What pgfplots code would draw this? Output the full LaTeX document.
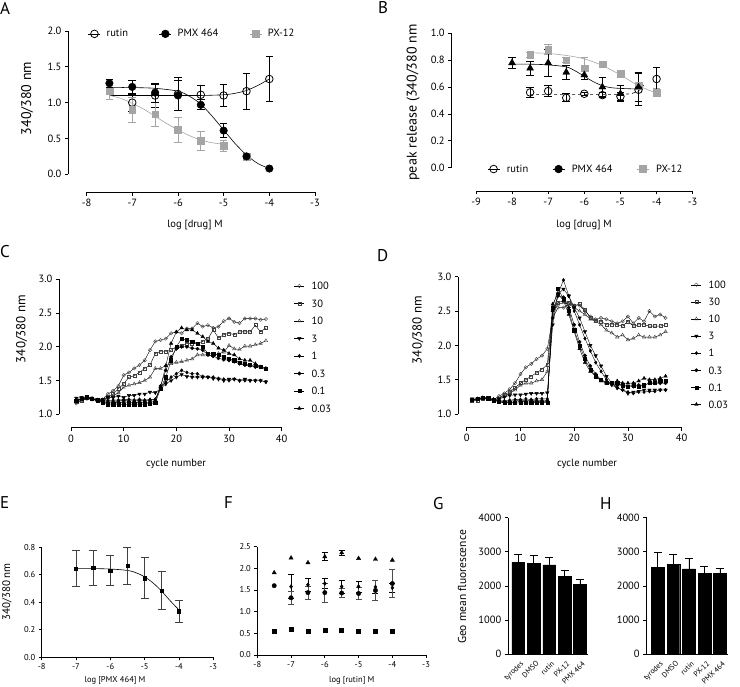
\documentclass[border=0pt]{standalone}
\usepackage{fontspec}
\setmainfont{PT Sans}
\usepackage{pgfplots}
\usepackage{pgfplotstable}
\pgfplotsset{compat=1.18}
\definecolor{pxgray}{RGB}{165,165,165}
\newcommand\fs[1]{\fontsize{#1}{#1}\selectfont}

% calcium traces, panel C (columns = concentration)
\pgfplotstableread{
c s100 s30 s10 s3 s1 s03 s01 s003
1 1.16 1.19 1.20 1.24 1.22 1.20 1.20 1.22
2 1.20 1.20 1.22 1.25 1.23 1.22 1.23 1.23
3 1.23 1.24 1.24 1.26 1.25 1.24 1.26 1.24
4 1.22 1.23 1.23 1.24 1.23 1.22 1.23 1.23
5 1.21 1.21 1.21 1.22 1.21 1.20 1.21 1.21
6 1.22 1.21 1.20 1.22 1.20 1.18 1.18 1.20
7 1.30 1.26 1.24 1.25 1.20 1.17 1.15 1.19
8 1.35 1.30 1.27 1.25 1.21 1.17 1.15 1.19
9 1.42 1.38 1.32 1.27 1.21 1.17 1.15 1.20
10 1.58 1.45 1.40 1.25 1.22 1.18 1.14 1.21
11 1.62 1.55 1.43 1.28 1.22 1.18 1.15 1.20
12 1.68 1.57 1.45 1.28 1.21 1.17 1.15 1.20
13 1.73 1.62 1.47 1.30 1.22 1.18 1.15 1.21
14 1.80 1.68 1.50 1.30 1.21 1.17 1.15 1.20
15 1.95 1.73 1.55 1.33 1.22 1.18 1.16 1.21
16 2.08 1.90 1.68 1.32 1.22 1.19 1.17 1.22
17 2.10 1.93 1.68 1.38 1.40 1.42 1.38 1.40
18 2.12 1.93 1.72 1.45 1.48 1.65 1.55 1.72
19 2.20 1.95 1.75 1.50 1.55 1.85 1.80 2.05
20 2.22 2.00 1.77 1.55 1.60 1.97 2.00 2.22
21 2.20 2.02 1.78 1.59 1.65 2.00 2.12 2.28
22 2.27 2.05 1.80 1.56 1.62 2.00 2.10 2.25
23 2.27 2.05 1.82 1.55 1.60 1.98 2.08 2.25
24 2.35 2.05 1.88 1.55 1.60 1.97 2.05 2.20
25 2.30 2.08 1.88 1.55 1.56 1.95 2.00 2.15
26 2.32 2.12 1.88 1.55 1.55 1.88 1.90 2.08
27 2.28 2.25 1.87 1.53 1.55 1.86 1.90 2.05
28 2.30 2.13 1.90 1.52 1.53 1.83 1.88 1.98
29 2.38 2.18 1.92 1.50 1.52 1.81 1.85 1.95
30 2.42 2.20 2.02 1.52 1.50 1.80 1.82 1.90
31 2.37 2.18 1.97 1.52 1.52 1.78 1.80 1.88
32 2.35 2.22 1.96 1.50 1.50 1.75 1.77 1.82
33 2.42 2.22 2.01 1.52 1.50 1.73 1.75 1.80
34 2.42 2.22 2.01 1.50 1.50 1.72 1.73 1.80
35 2.42 2.32 2.03 1.50 1.50 1.70 1.72 1.75
36 2.40 2.22 2.05 1.50 1.50 1.70 1.70 1.70
37 2.41 2.28 2.09 1.48 1.48 1.67 1.68 1.68
}\tabC

% panel D
\pgfplotstableread{
c s100 s30 s10 s3 s1 s03 s01 s003
1 1.20 1.19 1.20 1.22 1.21 1.20 1.21 1.20
2 1.21 1.20 1.21 1.22 1.22 1.21 1.22 1.22
3 1.23 1.22 1.23 1.24 1.24 1.23 1.24 1.23
4 1.22 1.22 1.22 1.23 1.23 1.22 1.23 1.22
5 1.21 1.20 1.21 1.21 1.21 1.20 1.20 1.21
6 1.26 1.23 1.22 1.22 1.19 1.18 1.18 1.19
7 1.30 1.28 1.25 1.25 1.19 1.17 1.16 1.18
8 1.36 1.32 1.30 1.27 1.20 1.17 1.16 1.19
9 1.45 1.38 1.35 1.28 1.21 1.17 1.16 1.19
10 1.58 1.45 1.42 1.28 1.21 1.18 1.16 1.20
11 1.68 1.50 1.45 1.29 1.22 1.18 1.16 1.19
12 1.73 1.55 1.45 1.30 1.21 1.17 1.16 1.20
13 1.80 1.60 1.48 1.30 1.22 1.18 1.17 1.19
14 1.85 1.65 1.50 1.30 1.22 1.18 1.17 1.20
15 1.95 1.72 1.62 1.31 1.22 1.19 1.17 1.20
16 2.40 2.55 2.50 2.30 2.40 2.50 2.55 2.60
17 2.55 2.62 2.60 2.75 2.75 2.72 2.82 2.75
18 2.55 2.65 2.62 2.82 2.95 2.70 2.68 2.65
19 2.60 2.62 2.60 2.72 2.72 2.55 2.50 2.45
20 2.58 2.58 2.55 2.55 2.50 2.30 2.22 2.20
21 2.58 2.60 2.50 2.40 2.30 2.05 2.00 1.95
22 2.50 2.52 2.45 2.20 2.10 1.85 1.80 1.75
23 2.42 2.40 2.38 2.00 1.92 1.70 1.65 1.62
24 2.38 2.36 2.35 1.85 1.75 1.58 1.55 1.55
25 2.40 2.35 2.30 1.70 1.62 1.50 1.50 1.48
26 2.38 2.30 2.22 1.55 1.50 1.45 1.46 1.45
27 2.35 2.30 2.18 1.45 1.42 1.44 1.45 1.45
28 2.32 2.30 2.12 1.38 1.38 1.42 1.45 1.48
29 2.35 2.28 2.15 1.35 1.35 1.42 1.42 1.45
30 2.42 2.35 2.08 1.30 1.32 1.40 1.40 1.45
31 2.32 2.28 2.10 1.32 1.30 1.40 1.42 1.45
32 2.40 2.30 2.15 1.33 1.32 1.42 1.40 1.48
33 2.35 2.30 2.12 1.35 1.32 1.42 1.42 1.52
34 2.50 2.28 2.12 1.35 1.33 1.45 1.45 1.50
35 2.42 2.28 2.12 1.35 1.33 1.45 1.45 1.50
36 2.45 2.28 2.15 1.35 1.35 1.45 1.48 1.52
37 2.40 2.30 2.20 1.35 1.35 1.45 1.48 1.55
}\tabD

\pgfplotsset{
  base/.style={scale only axis, clip=false, tick align=outside, major tick length=3.5pt,
    axis line style={line width=0.75pt}, tick style={line width=0.75pt, black},
    /pgf/number format/assume math mode=true, tick label style={font=\fs{10.5}}},
  yonly/.style={base, axis y line*=left, axis x line=none, xtick=\empty},
  xonly/.style={base, axis x line*=bottom, axis y line=none, ytick=\empty, ymin=0, ymax=1, height=1pt},
  onedec/.style={y tick label style={/pgf/number format/.cd, fixed, fixed zerofill, precision=1, /tikz/.cd}},
  errb/.style={error bars/.cd, y dir=both, y explicit, error bar style={line width=0.75pt},
    error mark options={rotate=90, line width=0.75pt, mark size=#1}},
  errb/.default=3.8pt,
  legA/.style={legend image code/.code={\draw[mark repeat=2, mark phase=2, ##1] plot coordinates {(0pt,0pt) (6pt,0pt) (12pt,0pt)};}},
  legC/.style={legend image code/.code={\draw[mark repeat=2, mark phase=2, ##1] plot coordinates {(0pt,0pt) (5pt,0pt) (10pt,0pt)};}},
  trace/.style={black, line width=0.4pt, mark size=1.7pt},
  opn/.style={mark options={fill=white, draw=black!75}},
  cats/.style={base, axis lines*=left, width=#1, height=136.6pt, ymin=0, ymax=4000,
    ytick={0,1000,2000,3000,4000}, xtick={0,1,2,3,4}, xticklabels={tyrodes,DMSO,rutin,PX-12,PMX 464},
    x tick label style={rotate=45, anchor=north east, font=\fs{7.5}, inner sep=0.5pt, yshift=-2.5pt},
    y tick label style={/pgf/number format/1000 sep={}}, x tick style={draw=none},
    ybar, bar width=12.7pt},
}

\begin{document}
\begin{tikzpicture}
\useasboundingbox (0pt,0pt) rectangle (740pt,687pt);

% ---------------- A
\begin{axis}[yonly, onedec, at={(68.3pt,512.7pt)}, width=246.7pt, height=143.3pt,
  xmin=-8.40, xmax=-3, ymin=0, ymax=2, ytick={0,0.5,1,1.5,2}, legA,
  legend columns=3, legend cell align=left,
  legend style={at={(axis cs:-7.97,1.96)}, anchor=west, draw=none, fill=none, inner sep=0pt,
    font=\fs{10.5}, column sep=6pt, nodes={inner sep=0pt},
    /tikz/every even column/.append style={column sep=31pt}}]
\addlegendimage{black, line width=0.6pt, mark=o, mark size=3.8pt, mark options={fill=white, line width=0.8pt}}
\addlegendentry{rutin}
\addlegendimage{black, line width=0.6pt, mark=*, mark size=3.8pt}
\addlegendentry{PMX 464}
\addlegendimage{pxgray, line width=0.6pt, mark=square*, mark size=3.4pt}
\addlegendentry{PX-12}
\addplot[forget plot, black, line width=0.6pt, smooth] coordinates {
(-7.5,1.10) (-7,1.10) (-6.5,1.10) (-6,1.10) (-5.5,1.10) (-5,1.11) (-4.75,1.13) (-4.5,1.17) (-4.25,1.24) (-4,1.33)};
\addplot[forget plot, black, line width=0.6pt, smooth] coordinates {
(-7.5,1.21) (-7,1.21) (-6.5,1.20) (-6,1.16) (-5.75,1.09) (-5.5,0.98) (-5.25,0.81) (-5,0.62) (-4.75,0.43) (-4.5,0.27) (-4.25,0.15) (-4,0.08)};
\addplot[forget plot, pxgray, line width=0.6pt, smooth] coordinates {
(-7.5,1.10) (-7.25,1.06) (-7,0.99) (-6.75,0.91) (-6.5,0.81) (-6.25,0.71) (-6,0.62) (-5.75,0.54) (-5.5,0.48) (-5.25,0.44) (-5,0.42)};
\addplot[forget plot, only marks, black, mark=o, mark size=3.8pt, mark options={fill=white, line width=0.8pt}, errb]
 table[x=x, y=y, y error=e] {
x y e
-7 1.00 0.12
-6.5 1.10 0.16
-6 1.12 0.23
-5.5 1.11 0.13
-5 1.10 0.15
-4.5 1.16 0.25
-4 1.33 0.31
};
\addplot[forget plot, only marks, pxgray, mark=square*, mark size=3.4pt, errb]
 table[x=x, y=y, y error=e] {
x y e
-7.5 1.16 0.12
-7 0.90 0.17
-6.5 0.84 0.17
-6 0.62 0.17
-5.5 0.47 0.13
-5 0.40 0.08
-4.5 0.24 0.03
};
\addplot[forget plot, only marks, black, mark=*, mark size=3.8pt, errb]
 table[x=x, y=y, y error=e] {
x y e
-7.5 1.27 0.05
-7 1.22 0.09
-6.5 1.14 0.13
-6 1.10 0.21
-5.5 0.97 0.07
-5 0.61 0.10
-4.5 0.25 0.04
-4 0.08 0.01
};
\end{axis}
\begin{axis}[xonly, at={(86.7pt,494.7pt)}, width=228.3pt, xmin=-8, xmax=-3, xtick={-8,-7,-6,-5,-4,-3}]
\end{axis}

% ---------------- B
\begin{axis}[yonly, onedec, at={(451.7pt,519.3pt)}, width=241pt, height=134.4pt,
  xmin=-9.67, xmax=-3, ymin=0, ymax=1, ytick={0,0.2,0.4,0.6,0.8,1}, legA,
  legend columns=3, legend cell align=left,
  legend style={at={(axis cs:-8.69,-0.01)}, anchor=west, draw=none, fill=none, inner sep=0pt,
    font=\fs{10.5}, column sep=7pt, nodes={inner sep=0pt},
    /tikz/every even column/.append style={column sep=24pt}}]
\addlegendimage{black, line width=0.6pt, mark=o, mark size=3.8pt, mark options={fill=white, line width=0.8pt}}
\addlegendentry{rutin}
\addlegendimage{black, line width=0.6pt, mark=*, mark size=3.8pt}
\addlegendentry{PMX 464}
\addlegendimage{pxgray, line width=0.6pt, mark=square*, mark size=3.4pt}
\addlegendentry{PX-12}
\addplot[forget plot, pxgray, line width=0.6pt, smooth] coordinates {
(-7.5,0.855) (-7,0.85) (-6.5,0.835) (-6,0.81) (-5.5,0.76) (-5,0.69) (-4.5,0.61) (-4,0.555)};
\addplot[forget plot, black, line width=0.6pt, smooth] coordinates {
(-8,0.77) (-7.5,0.77) (-7,0.765) (-6.5,0.75) (-6.25,0.72) (-6,0.68) (-5.75,0.64) (-5.5,0.61) (-5.25,0.595) (-5,0.59) (-4.5,0.585)};
\addplot[forget plot, black, line width=0.6pt, dashed] coordinates {
(-7.5,0.545) (-5,0.545) (-4.7,0.55) (-4.5,0.57) (-4.3,0.63)};
\addplot[forget plot, only marks, pxgray, mark=square*, mark size=3.4pt, errb]
 table[x=x, y=y, y error=e] {
x y e
-7.5 0.84 0.02
-7 0.88 0.04
-6.5 0.80 0.02
-6 0.74 0.08
-5.5 0.77 0.02
-5 0.70 0.02
-4.5 0.61 0.02
-4 0.56 0.03
};
\addplot[forget plot, only marks, black, mark=o, mark size=3.8pt, mark options={fill=white, line width=0.8pt}, errb]
 table[x=x, y=y, y error=e] {
x y e
-7.5 0.56 0.04
-7 0.57 0.04
-6.5 0.52 0.03
-6 0.55 0.01
-5.5 0.54 0.02
-5 0.53 0.03
-4.5 0.58 0.12
-4 0.66 0.09
};
\addplot[forget plot, only marks, black, mark=triangle*, mark size=4pt, errb]
 table[x=x, y=y, y error=e] {
x y e
-8 0.78 0.04
-7.5 0.74 0.05
-7 0.78 0.10
-6.5 0.71 0.05
-6 0.69 0.03
-5.5 0.60 0.07
-5 0.55 0.06
-4.5 0.60 0.11
};
\end{axis}
\begin{axis}[xonly, at={(476pt,496pt)}, width=216.7pt, xmin=-9, xmax=-3, xtick={-9,-8,-7,-6,-5,-4,-3}]
\end{axis}

% ---------------- C
\begin{axis}[yonly, onedec, at={(59.3pt,272.7pt)}, width=222.4pt, height=135pt,
  xmin=-2.22, xmax=40, ymin=1, ymax=3, ytick={1,1.5,2,2.5,3}, legC, legend cell align=left,
  legend style={at={(axis cs:42.33,2.96)}, anchor=north west, draw=none, fill=none, inner sep=0pt,
    font=\fs{10.5}, column sep=7pt, row sep=10pt, nodes={inner sep=0pt, text height=7.5pt, text depth=0pt}}]
\addplot[trace, mark=o, opn] table[x=c, y=s100] {\tabC};
\addplot[trace, mark=square, mark size=1.5pt, opn] table[x=c, y=s30] {\tabC};
\addplot[trace, mark=triangle, mark size=2pt, opn] table[x=c, y=s10] {\tabC};
\addplot[trace, mark=triangle*, mark size=2pt, mark options={rotate=180}] table[x=c, y=s3] {\tabC};
\addplot[trace, mark=diamond*, mark size=1.7pt] table[x=c, y=s1] {\tabC};
\addplot[trace, mark=*, mark size=1.7pt] table[x=c, y=s03] {\tabC};
\addplot[trace, mark=square*, mark size=1.6pt] table[x=c, y=s01] {\tabC};
\addplot[trace, mark=triangle*, mark size=2pt] table[x=c, y=s003] {\tabC};
\legend{100,30,10,3,1,0.3,0.1,0.03}
\end{axis}
\begin{axis}[xonly, at={(71pt,259.3pt)}, width=210.7pt, xmin=0, xmax=40, xtick={0,10,20,30,40}]
\end{axis}

% ---------------- D
\begin{axis}[yonly, onedec, at={(458.3pt,273pt)}, width=223.4pt, height=137.3pt,
  xmin=-1.56, xmax=40, ymin=1, ymax=3, ytick={1,1.5,2,2.5,3}, legC, legend cell align=left,
  legend style={at={(axis cs:41.73,2.94)}, anchor=north west, draw=none, fill=none, inner sep=0pt,
    font=\fs{10.5}, column sep=7pt, row sep=9.6pt, nodes={inner sep=0pt, text height=7.5pt, text depth=0pt}}]
\addplot[trace, mark=o, opn] table[x=c, y=s100] {\tabD};
\addplot[trace, mark=square, mark size=1.5pt, opn] table[x=c, y=s30] {\tabD};
\addplot[trace, mark=triangle, mark size=2pt, opn] table[x=c, y=s10] {\tabD};
\addplot[trace, mark=triangle*, mark size=2pt, mark options={rotate=180}] table[x=c, y=s3] {\tabD};
\addplot[trace, mark=diamond*, mark size=1.7pt] table[x=c, y=s1] {\tabD};
\addplot[trace, mark=*, mark size=1.7pt] table[x=c, y=s03] {\tabD};
\addplot[trace, mark=square*, mark size=1.6pt] table[x=c, y=s01] {\tabD};
\addplot[trace, mark=triangle*, mark size=2pt] table[x=c, y=s003] {\tabD};
\legend{100,30,10,3,1,0.3,0.1,0.03}
\end{axis}
\begin{axis}[xonly, at={(466.7pt,259.7pt)}, width=215pt, xmin=0, xmax=40, xtick={0,10,20,30,40}]
\end{axis}

% ---------------- E
\begin{axis}[base, onedec, axis lines*=left, at={(41.7pt,29.7pt)}, width=171.5pt, height=110pt,
  xmin=-8, xmax=-3, ymin=0, ymax=0.8, ytick={0,0.2,0.4,0.6,0.8}, xtick={-8,-7,-6,-5,-4,-3},
  tick label style={font=\fs{8.5}}, major tick length=3pt]
\addplot[black, line width=0.6pt, smooth] coordinates {
(-7,0.645) (-6.5,0.645) (-6,0.642) (-5.5,0.632) (-5.25,0.615) (-5,0.585) (-4.75,0.54) (-4.5,0.48) (-4.25,0.41) (-4,0.345)};
\addplot[only marks, black!75, mark=square*, mark size=1.7pt, mark options={black}, errb=4pt]
 table[x=x, y=y, y error=e] {
x y e
-7 0.645 0.13
-6.5 0.65 0.13
-6 0.63 0.11
-5.5 0.665 0.135
-5 0.575 0.15
-4.5 0.485 0.14
-4 0.335 0.08
};
\end{axis}

% ---------------- F
\begin{axis}[base, onedec, axis lines*=left, at={(257.3pt,32pt)}, width=168.8pt, height=108.3pt,
  xmin=-8, xmax=-3, ymin=0, ymax=2.5, ytick={0,0.5,1,1.5,2,2.5}, xtick={-8,-7,-6,-5,-4,-3},
  tick label style={font=\fs{8.5}}, major tick length=3pt]
\addplot[only marks, black, mark=triangle*, mark size=2.4pt] table {
x y
-7.5 1.90
-7 2.24
-6.5 2.13
-5 2.23
-4.5 2.21
-4 2.19
};
\addplot[only marks, black, mark=triangle*, mark size=2.4pt, errb=3pt] table[x=x, y=y, y error=e] {
x y e
-6 2.27 0.09
-5.5 2.36 0.05
};
\addplot[only marks, black, mark=diamond*, mark size=2pt, errb=3pt] table[x=x, y=y, y error=e] {
x y e
-7 1.58 0.27
-6.5 1.62 0.15
-6 1.65 0.11
-5.5 1.58 0.15
-5 1.58 0.13
-4.5 1.57 0.15
-4 1.55 0.10
};
\addplot[only marks, black, mark=*, mark size=2.2pt] table {
x y
-7.5 1.60
};
\addplot[only marks, black!70, mark=*, mark size=2.2pt, mark options={black}, errb=3pt] table[x=x, y=y, y error=e] {
x y e
-7 1.32 0.14
-6.5 1.44 0.15
-6 1.44 0.22
-5.5 1.43 0.10
-5 1.42 0.14
-4.5 1.49 0.24
-4 1.65 0.32
};
\addplot[only marks, black, mark=square*, mark size=2pt] table {
x y
-7.5 0.56
-7 0.59
-6.5 0.54
-6 0.58
-5.5 0.57
-5 0.55
-4.5 0.54
-4 0.55
};
\end{axis}

% ---------------- G
\begin{axis}[cats=79.7pt, at={(508.3pt,32.7pt)}, xmin=-0.65, xmax=4.52]
\addplot[fill=black, draw=black, bar shift=0pt, error bars/.cd, y dir=plus, y explicit,
  error bar style={line width=0.75pt}, error mark options={rotate=90, line width=0.75pt, mark size=4pt}]
 table[x=x, y=y, y error=e] {
x y e
0 2693 240
1 2663 245
2 2615 225
3 2273 175
4 2049 145
};
\end{axis}

% ---------------- H
\begin{axis}[cats=81.3pt, at={(646.7pt,32.7pt)}, xmin=-0.72, xmax=4.52]
\addplot[fill=black, draw=black, bar shift=0pt, error bars/.cd, y dir=plus, y explicit,
  error bar style={line width=0.75pt}, error mark options={rotate=90, line width=0.75pt, mark size=4pt}]
 table[x=x, y=y, y error=e] {
x y e
0 2537 440
1 2634 300
2 2498 310
3 2371 215
4 2371 150
};
\end{axis}

% ---------------- labels
\node[rotate=90, font=\fs{14}] at (27pt,588.5pt) {340/380 nm};
\node[font=\fs{10.5}] at (195pt,462pt) {log [drug] M};
\node[rotate=90, font=\fs{14}] at (413.3pt,584.5pt) {peak release (340/380 nm};
\node[font=\fs{10.5}] at (584pt,462pt) {log [drug] M};
\node[rotate=90, font=\fs{13}] at (21.7pt,358pt) {340/380 nm};
\node[font=\fs{10.5}] at (176pt,223pt) {cycle number};
\node[rotate=90, font=\fs{13}] at (418pt,357pt) {340/380 nm};
\node[font=\fs{10.5}] at (587pt,223pt) {cycle number};
\node[rotate=90, font=\fs{11}] at (7pt,95pt) {340/380 nm};
\node[font=\fs{8.5}] at (115pt,7pt) {log [PMX 464] M};
\node[font=\fs{8.5}] at (351.7pt,7pt) {log [rutin] M};
\node[rotate=90, font=\fs{11.5}] at (462pt,100pt) {Geo mean fluorescence};

\node[anchor=west, inner sep=0pt, font=\fs{17}] at (0pt,679pt) {A};
\node[anchor=west, inner sep=0pt, font=\fs{17}] at (378pt,679pt) {B};
\node[anchor=west, inner sep=0pt, font=\fs{17}] at (0pt,435pt) {C};
\node[anchor=west, inner sep=0pt, font=\fs{17}] at (377pt,431pt) {D};
\node[anchor=west, inner sep=0pt, font=\fs{17}] at (0pt,184pt) {E};
\node[anchor=west, inner sep=0pt, font=\fs{17}] at (224pt,184pt) {F};
\node[anchor=west, inner sep=0pt, font=\fs{17}] at (433pt,183pt) {G};
\node[anchor=west, inner sep=0pt, font=\fs{17}] at (600pt,183pt) {H};
\end{tikzpicture}
\end{document}
